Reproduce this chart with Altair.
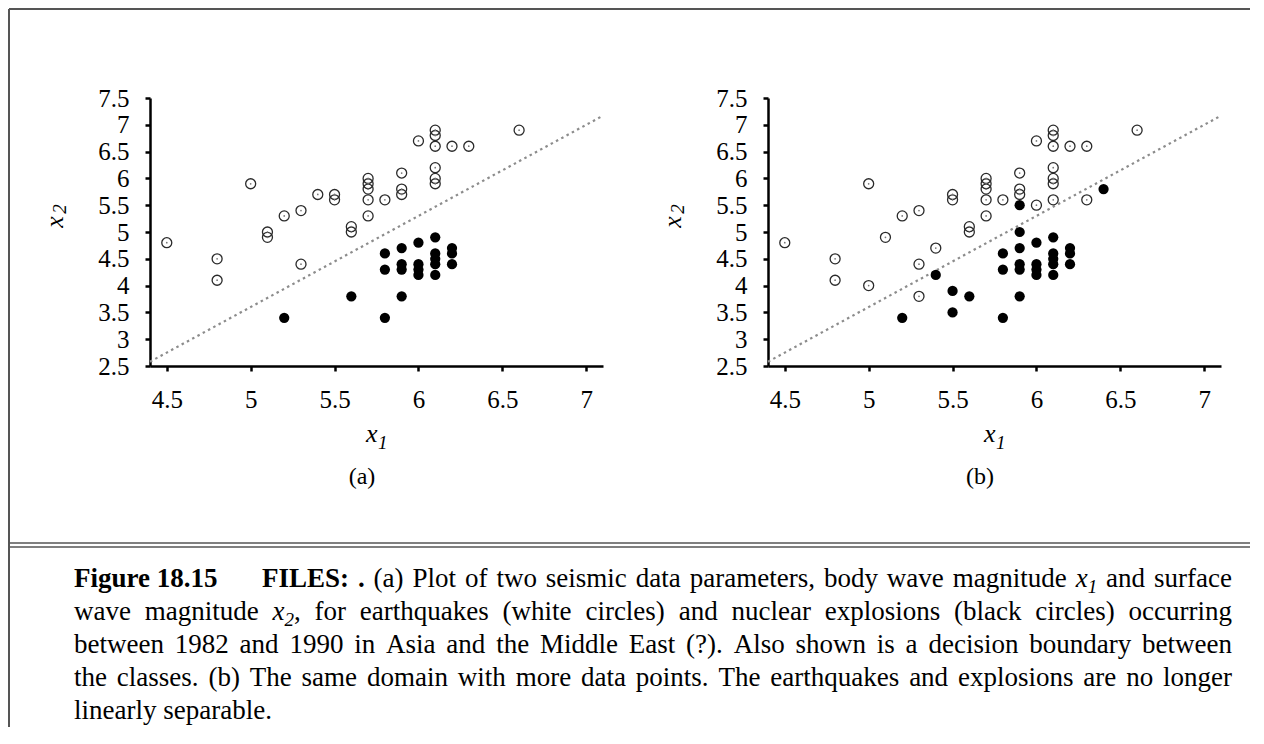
import altair as alt
import pandas as pd

# ---------------- data ----------------
# panel (a): earthquakes (white circles)
A_QUAKE_X = [4.5, 4.8, 4.8, 5.0, 5.1, 5.1, 5.2, 5.3, 5.3, 5.4, 5.5, 5.5, 5.6, 5.6,
             5.7, 5.7, 5.7, 5.7, 5.7, 5.8, 5.9, 5.9, 5.9, 6.0, 6.1, 6.1, 6.1, 6.1,
             6.1, 6.1, 6.2, 6.3, 6.6]
A_QUAKE_Y = [4.8, 4.5, 4.1, 5.9, 5.0, 4.9, 5.3, 5.4, 4.4, 5.7, 5.7, 5.6, 5.1, 5.0,
             6.0, 5.9, 5.8, 5.6, 5.3, 5.6, 6.1, 5.8, 5.7, 6.7, 6.9, 6.8, 6.6, 6.2,
             6.0, 5.9, 6.6, 6.6, 6.9]
# panel (a): nuclear explosions (black circles)
A_EXPL_X = [5.2, 5.6, 5.8, 5.8, 5.8, 5.9, 5.9, 5.9, 5.9, 6.0, 6.0, 6.0, 6.0,
            6.1, 6.1, 6.1, 6.1, 6.1, 6.2, 6.2, 6.2]
A_EXPL_Y = [3.4, 3.8, 3.4, 4.6, 4.3, 4.7, 4.4, 4.3, 3.8, 4.8, 4.4, 4.3, 4.2,
            4.9, 4.6, 4.5, 4.4, 4.2, 4.7, 4.6, 4.4]
# panel (b)
B_QUAKE_X = [4.5, 4.8, 4.8, 5.0, 5.0, 5.1, 5.2, 5.3, 5.3, 5.3, 5.4, 5.5, 5.5, 5.6,
             5.6, 5.7, 5.7, 5.7, 5.7, 5.7, 5.8, 5.9, 5.9, 5.9, 6.0, 6.0, 6.1, 6.1,
             6.1, 6.1, 6.1, 6.1, 6.1, 6.2, 6.3, 6.3, 6.6]
B_QUAKE_Y = [4.8, 4.5, 4.1, 5.9, 4.0, 4.9, 5.3, 5.4, 4.4, 3.8, 4.7, 5.7, 5.6, 5.1,
             5.0, 6.0, 5.9, 5.8, 5.6, 5.3, 5.6, 6.1, 5.8, 5.7, 6.7, 5.5, 6.9, 6.8,
             6.6, 6.2, 6.0, 5.9, 5.6, 6.6, 6.6, 5.6, 6.9]
B_EXPL_X = [5.2, 5.4, 5.5, 5.5, 5.6, 5.8, 5.8, 5.8, 5.9, 5.9, 5.9, 5.9, 5.9, 5.9,
            6.0, 6.0, 6.0, 6.0, 6.1, 6.1, 6.1, 6.1, 6.1, 6.2, 6.2, 6.2, 6.4]
B_EXPL_Y = [3.4, 4.2, 3.9, 3.5, 3.8, 3.4, 4.6, 4.3, 5.5, 5.0, 4.7, 4.4, 4.3, 3.8,
            4.8, 4.4, 4.3, 4.2, 4.9, 4.6, 4.5, 4.4, 4.2, 4.7, 4.6, 4.4, 5.8]
# decision boundary (dotted line), end points
BOUNDARY_X = [4.4, 7.1]
BOUNDARY_Y = [2.58, 7.17]

X_DOMAIN = [4.4, 7.1]
Y_DOMAIN = [2.5, 7.5]
X_TICKS = [4.5, 5, 5.5, 6, 6.5, 7]
Y_TICKS = [2.5, 3, 3.5, 4, 4.5, 5, 5.5, 6, 6.5, 7, 7.5]
PANEL_LABELS = ["(a)", "(b)"]

# caption (words; tuples are (text, style) runs: r regular, b bold, i italic, s subscript)
CAPTION_LINES = [
    [[("Figure 18.15", "b")], [("FILES:", "b")], [(".", "b")], "(a)", "Plot", "of", "two",
     "seismic", "data", "parameters,", "body", "wave", "magnitude", [("x", "i"), ("1", "s")],
     "and", "surface"],
    ["wave", "magnitude", [("x", "i"), ("2", "s"), (",", "r")], "for", "earthquakes",
     "(white", "circles)", "and", "nuclear", "explosions", "(black", "circles)", "occurring"],
    "between 1982 and 1990 in Asia and the Middle East (?). Also shown is a decision boundary between".split(),
    "the classes. (b) The same domain with more data points. The earthquakes and explosions are no longer".split(),
    "linearly separable.".split(),
]

# ---------------- layout constants (pixels) ----------------
PW, PH = 453, 268
OX_A, OX_B, OY = 150, 768, 98
FONT = "Liberation Serif"

# Times metrics (Liberation Serif is metric compatible), 1/1000 em
_LOW = "abcdefghijklmnopqrstuvwxyz"
REG = dict(zip(_LOW, [444, 500, 444, 500, 444, 333, 500, 500, 278, 278, 500, 278, 778,
                      500, 500, 500, 500, 333, 389, 278, 500, 500, 722, 500, 500, 444]))
REG.update({"A": 722, "B": 667, "E": 611, "F": 556, "I": 333, "L": 611, "M": 889, "P": 556,
            "S": 556, "T": 611, " ": 250, "(": 333, ")": 333, ",": 250, ".": 250, "?": 444,
            ":": 278})
BOLD = dict(zip(_LOW, [500, 556, 444, 556, 444, 333, 500, 556, 278, 333, 556, 278, 833,
                       556, 500, 556, 556, 444, 389, 333, 556, 500, 722, 500, 500, 444]))
BOLD.update({"F": 611, "I": 389, "L": 667, "E": 667, "S": 556, " ": 250, ".": 250, ":": 333})
ITAL = {"x": 444}
CAP_FS, SUB_FS = 27, 19
CAP_LEFT, CAP_RIGHT, CAP_BASE, CAP_LEAD = 74, 1232, 587, 33
QUAD = 35


def run_width(text, style):
    fs = SUB_FS if style == "s" else CAP_FS
    table = {"r": REG, "b": BOLD, "i": ITAL, "s": ITAL}[style]
    return sum(table.get(c, 500) for c in text) * fs / 1000.0


def caption_rows():
    rows = []
    for li, words in enumerate(CAPTION_LINES):
        base = CAP_BASE + li * CAP_LEAD
        runs = [[(w, "r")] if isinstance(w, str) else w for w in words]
        widths = [sum(run_width(t, s) for t, s in r) for r in runs]
        gaps = [CAP_FS * 0.25] * (len(runs) - 1)
        if li == 0:
            gaps[0] += QUAD
        extra = 0.0
        if li < len(CAPTION_LINES) - 1:
            extra = (CAP_RIGHT - CAP_LEFT - sum(widths) - sum(gaps)) / (len(runs) - 1)
        x = CAP_LEFT
        for k, r in enumerate(runs):
            for t, s in r:
                kind = {"r": "reg", "b": "bold", "i": "ital", "s": "ital"}[s]
                fs = SUB_FS if s == "s" else CAP_FS
                y = base + (6 if s == "s" else 0)
                rows.append((t, x, y, fs, kind))
                x += run_width(t, s)
            if k < len(runs) - 1:
                x += gaps[k] + extra
    return rows


def data_layers(qx, qy, ex, ey):
    sx = alt.Scale(domain=X_DOMAIN, nice=False, zero=False)
    sy = alt.Scale(domain=Y_DOMAIN, nice=False, zero=False)
    xax = alt.Axis(values=X_TICKS, format=".1~f", title=None, labelFlush=False,
                   labelOverlap=False, labelPadding=16)
    yax = alt.Axis(values=Y_TICKS, format=".1~f", title=None, labelFlush=False,
                   labelOverlap=False, labelPadding=16)

    def enc(c):
        return c.encode(x=alt.X("mb:Q", scale=sx, axis=xax), y=alt.Y("ms:Q", scale=sy, axis=yax))

    line = enc(alt.Chart(pd.DataFrame({"mb": BOUNDARY_X, "ms": BOUNDARY_Y}))
               .mark_line(color="#8c8c8c", strokeWidth=2.2, strokeDash=[2.5, 3.5]))
    qdf = pd.DataFrame({"mb": qx, "ms": qy})
    quakes = enc(alt.Chart(qdf).mark_point(shape="circle", filled=False, size=100,
                                           stroke="#2a2a2a", strokeWidth=1.3, opacity=1))
    centers = enc(alt.Chart(qdf).mark_point(shape="circle", filled=True, size=3,
                                            color="#777777", opacity=1))
    expl = enc(alt.Chart(pd.DataFrame({"mb": ex, "ms": ey}))
               .mark_point(shape="circle", filled=True, size=105, color="black", opacity=1))
    return alt.layer(line, quakes, centers, expl)


def overlay(ox, texts, rules=None):
    sx = alt.Scale(domain=[ox, ox + PW], nice=False, zero=False)
    sy = alt.Scale(domain=[OY, OY + PH], reverse=True, nice=False, zero=False)
    tdf = pd.DataFrame(texts, columns=["text", "px", "py", "fs", "kind"])
    specs = {
        "reg": {},
        "bold": {"fontWeight": "bold"},
        "ital": {"fontStyle": "italic"},
        "regc": {"align": "center"},
        "rot": {"fontStyle": "italic", "angle": 270, "align": "center", "baseline": "middle"},
    }
    layers = []
    for kind, props in specs.items():
        if kind not in set(tdf["kind"]):
            continue
        mk = {"font": FONT, "color": "black", "align": "left", "baseline": "alphabetic"}
        mk.update(props)
        layers.append(
            alt.Chart(tdf).transform_filter(alt.datum.kind == kind).mark_text(**mk).encode(
                x=alt.X("px:Q", scale=sx, axis=None),
                y=alt.Y("py:Q", scale=sy, axis=None),
                text="text:N",
                size=alt.Size("fs:Q", scale=None),
            )
        )
    if rules:
        rdf = pd.DataFrame(rules, columns=["x", "y", "x2", "y2", "w"])
        layers.insert(0, alt.Chart(rdf).mark_rule(color="#555555").encode(
            x=alt.X("x:Q", scale=sx, axis=None), y=alt.Y("y:Q", scale=sy, axis=None),
            x2="x2:Q", y2="y2:Q", strokeWidth=alt.StrokeWidth("w:Q", scale=None)))
    return alt.layer(*layers)


def panel_texts(dx, label):
    return [
        ("x", 366 + dx, 442, 26, "ital"),
        ("1", 378 + dx, 449, 19, "ital"),
        ("x", 55 + dx, 222, 26, "rot"),
        ("2", 60 + dx, 209, 19, "rot"),
        (label, 362 + dx, 484, 24, "regc"),
    ]


FRAME = [
    (9, 9, 1250, 9, 2),
    (9, 9, 9, 727, 2),
    (9, 543, 1250, 543, 1.5),
    (9, 547, 1250, 547, 1.5),
]

panel_a = alt.layer(
    data_layers(A_QUAKE_X, A_QUAKE_Y, A_EXPL_X, A_EXPL_Y),
    overlay(OX_A, panel_texts(0, PANEL_LABELS[0]) + caption_rows(), FRAME),
).resolve_scale(x="independent", y="independent").properties(width=PW, height=PH)

panel_b = alt.layer(
    data_layers(B_QUAKE_X, B_QUAKE_Y, B_EXPL_X, B_EXPL_Y),
    overlay(OX_B, panel_texts(OX_B - OX_A, PANEL_LABELS[1])),
).resolve_scale(x="independent", y="independent").properties(width=PW, height=PH)

chart = (
    alt.hconcat(panel_a, panel_b, spacing=OX_B - OX_A - PW, bounds="flush")
    .properties(padding=0, background="white")
    .configure_view(strokeWidth=0)
    .configure_axis(domainColor="black", domainWidth=2.5, tickColor="black", tickWidth=2.5,
                    tickSize=5, labelFont=FONT, labelFontSize=25, labelColor="black",
                    grid=False)
)

chart.save("out.html", embed_options={"renderer": "svg", "actions": False})
